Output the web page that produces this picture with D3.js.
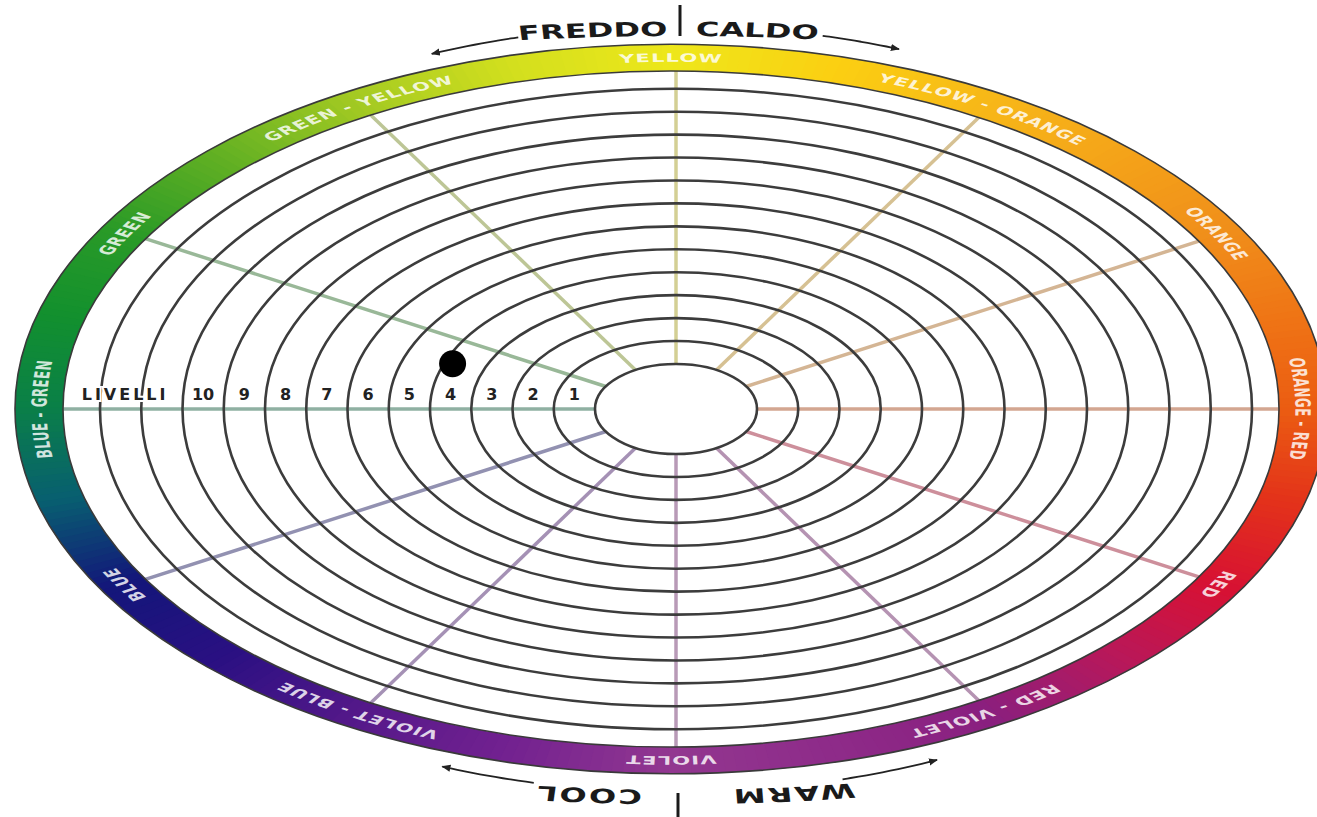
<!DOCTYPE html>
<html>
<head>
<meta charset="utf-8">
<script src="https://cdn.jsdelivr.net/npm/d3@7"></script>
<style>
  html, body { margin: 0; padding: 0; background: #fff; }
  svg { display: block; }
</style>
</head>
<body>
<div id="chart"></div>
<script>
// hue names around the wheel, counter-clockwise from the right (degrees)
var hueNames = ['ORANGE - RED', 'ORANGE', 'YELLOW - ORANGE', 'YELLOW', 'GREEN - YELLOW', 'GREEN',
  'BLUE - GREEN', 'BLUE', 'VIOLET - BLUE', 'VIOLET', 'RED - VIOLET', 'RED'];
var hueAngles = [0, 30, 60, 90, 120, 150, 180, 210, 240, 270, 300, 330];

// colour of the outer band read at each angle
var bandAngles = [0, 15, 30, 45, 60, 75, 90, 105, 120, 135, 150, 165, 180, 195, 210, 225, 240, 255, 270, 285, 300, 315, 330, 345, 360];
var bandColors = ['#eb5c12', '#ef7415', '#f08e1a', '#f4a219', '#f7b718', '#fbcf12', '#eee71a', '#d2df1e', '#a2c922', '#62b023',
  '#2a9a27', '#12902e', '#0a7f48', '#085f70', '#13167a', '#2a1082', '#531889', '#722190', '#923790', '#8e2b89',
  '#891f7f', '#b8185a', '#d71133', '#e3321a', '#eb5c12'];

// rings and level labels
var ringLevels = d3.range(0, 13);
var levelLabels = [10, 9, 8, 7, 6, 5, 4, 3, 2, 1];
var levelTitle = 'LIVELLI';

// the marked point
var dotLevel = 3.8;
var dotAngle = 160;

var topWords = ['FREDDO', 'CALDO'];
var bottomWords = ['COOL', 'WARM'];

(function() {
  var width = 1317, height = 817;
  var cx = 676, cxBand = 671, cy = 409, k = 0.556;
  var bandIn = 608, bandOut = 656, bandMid = 632;
  var rad = Math.PI / 180;

  var r = d3.scaleLinear().domain([0, 12]).range([81, 576]);
  var color = d3.scaleLinear().domain(bandAngles).range(bandColors).interpolate(d3.interpolateRgb);
  var line = d3.line();
  var curve = d3.line().curve(d3.curveCatmullRom);

  var ell = function(rx, ry, a0, a1, n) {
    return d3.range(n + 1).map(function(i) {
      var a = (a0 + (a1 - a0) * i / n) * rad;
      return [rx * Math.cos(a), -ry * Math.sin(a)];
    });
  };

  var svg = d3.select('#chart').append('svg').attr('width', width).attr('height', height);
  var defs = svg.append('defs');
  defs.append('marker').attr('id', 'head').attr('viewBox', '0 -5 10 10')
    .attr('refX', 9).attr('refY', 0).attr('markerWidth', 9).attr('markerHeight', 9)
    .attr('markerUnits', 'userSpaceOnUse').attr('orient', 'auto')
    .append('path').attr('d', 'M0,-4L10,0L0,4Z').attr('fill', '#222');

  // spokes from the hub, running under the band
  svg.append('g').selectAll('line').data(hueAngles).enter().append('line')
    .attr('x1', function(a) { return cx + r(0) * Math.cos(a * rad); })
    .attr('y1', function(a) { return cy - k * r(0) * Math.sin(a * rad); })
    .attr('x2', function(a) { return cx + (bandIn + 12) * Math.cos(a * rad); })
    .attr('y2', function(a) { return cy - k * (bandIn + 12) * Math.sin(a * rad); })
    .attr('stroke', function(a) { return d3.interpolateRgb(color(a), '#c8c5c8')(0.7); })
    .attr('stroke-width', 3.5);

  // outer colour band, drawn as a circle and squashed vertically
  var gb = svg.append('g').attr('transform', 'translate(' + cxBand + ',' + cy + ') scale(1,' + k + ')');

  gb.append('g').selectAll('path').data(d3.range(0, 360, 1)).enter().append('path')
    .attr('d', function(a) {
      return line(ell(bandOut, bandOut, a - 0.2, a + 1.2, 4).concat(ell(bandIn, bandIn, a + 1.2, a - 0.2, 4))) + 'Z';
    })
    .attr('fill', function(a) { return color(a + 0.5); });

  gb.append('g').selectAll('circle').data([bandOut, bandIn]).enter().append('circle')
    .attr('r', function(d) { return d; })
    .attr('fill', 'none').attr('stroke', '#3a3a3a').attr('stroke-width', 1.6)
    .attr('vector-effect', 'non-scaling-stroke');

  var g = svg.append('g').attr('transform', 'translate(' + cx + ',' + cy + ') scale(1,' + k + ')');
  g.append('g').selectAll('circle').data(ringLevels).enter().append('circle')
    .attr('r', function(d) { return r(d); })
    .attr('fill', function(d) { return d === 0 ? '#fff' : 'none'; })
    .attr('stroke', '#3c3c3c').attr('stroke-width', 2.6)
    .attr('vector-effect', 'non-scaling-stroke');

  // hue names along the band
  var lab = gb.append('g');
  hueNames.forEach(function(name, i) {
    var a = hueAngles[i];
    lab.append('path').attr('id', 'hue' + i).attr('fill', 'none')
      .attr('d', curve(ell(bandMid, bandMid, a + 40, a - 40, 40)));
    lab.append('text')
      .attr('font-family', 'DejaVu Sans, sans-serif').attr('font-weight', 'bold')
      .attr('font-size', 21).attr('letter-spacing', 1.2)
      .attr('fill', '#fff').attr('fill-opacity', 0.82).attr('dy', '0.36em')
      .append('textPath').attr('href', '#hue' + i).attr('startOffset', '50%')
      .attr('text-anchor', 'middle').text(name);
  });

  // level labels on the left spoke
  var lv = svg.append('g').attr('font-family', 'DejaVu Sans, sans-serif').attr('font-weight', 'bold')
    .attr('font-size', 16).attr('fill', '#222').attr('text-anchor', 'middle');
  lv.selectAll('text.n').data(levelLabels).enter().append('text').attr('class', 'n')
    .attr('x', function(d) { return cx - r(d - 0.5); })
    .attr('y', cy - 9)
    .text(function(d) { return d; });
  lv.append('text').attr('x', cx - r(10) - 14).attr('y', cy - 9)
    .attr('text-anchor', 'end').attr('letter-spacing', 3)
    .attr('stroke', '#fff').attr('stroke-width', 4).attr('paint-order', 'stroke')
    .text(levelTitle);

  svg.append('circle')
    .attr('cx', cx + r(dotLevel) * Math.cos(dotAngle * rad))
    .attr('cy', cy - k * r(dotLevel) * Math.sin(dotAngle * rad))
    .attr('r', 13.5).attr('fill', '#000');

  // arrows around the wheel
  var arx = 652, ary = 383;
  var arrows = [[104, 112], [77, 70], [257.4, 249], [284.8, 293.6]];
  svg.append('g').attr('transform', 'translate(' + cx + ',' + cy + ')').selectAll('path').data(arrows).enter().append('path')
    .attr('d', function(d) { return curve(ell(arx, ary, d[0], d[1], 12)); })
    .attr('fill', 'none').attr('stroke', '#222').attr('stroke-width', 1.8)
    .attr('marker-end', 'url(#head)');

  svg.append('g').attr('stroke', '#1a1a1a').attr('stroke-width', 3).selectAll('line')
    .data([[680, 5, 36], [678, 793, 817]]).enter().append('line')
    .attr('x1', function(d) { return d[0]; }).attr('x2', function(d) { return d[0]; })
    .attr('y1', function(d) { return d[1]; }).attr('y2', function(d) { return d[2]; });

  // FREDDO | CALDO and COOL | WARM, squashed like the wheel
  var kt = 0.62;
  var gt = svg.append('g').attr('transform', 'translate(' + cx + ',' + cy + ') scale(1,' + kt + ')')
    .attr('font-family', 'DejaVu Sans, sans-serif').attr('font-weight', 'bold')
    .attr('font-size', 32).attr('fill', '#1a1a1a');
  var words = [
    {text: topWords[0], rx: 1030, ry: 373 / kt, x: 592, top: true},
    {text: topWords[1], rx: 1030, ry: 373 / kt, x: 758, top: true},
    {text: bottomWords[0], rx: 942, ry: 381 / kt, x: 588, top: false},
    {text: bottomWords[1], rx: 942, ry: 381 / kt, x: 794, top: false}
  ];
  words.forEach(function(w, i) {
    var a = Math.acos((w.x - cx) / w.rx) / rad;
    if (!w.top) a = 360 - a;
    gt.append('path').attr('id', 'word' + i).attr('fill', 'none')
      .attr('d', curve(ell(w.rx, w.ry, a + 12, a - 12, 24)));
    gt.append('text').attr('letter-spacing', w.top ? 0 : 2)
      .append('textPath').attr('href', '#word' + i).attr('startOffset', '50%')
      .attr('text-anchor', 'middle').text(w.text);
  });
}).call(this);
</script>
</body>
</html>
